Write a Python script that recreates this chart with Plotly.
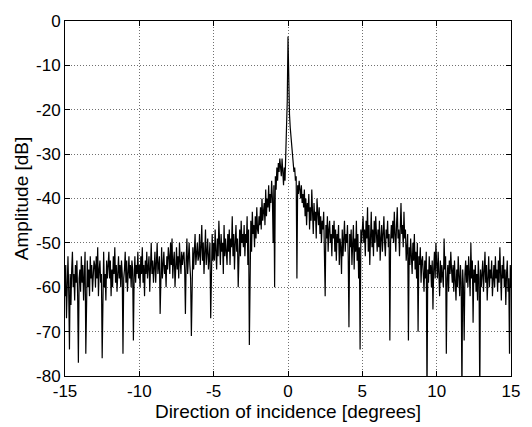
import plotly.graph_objects as go

# Sample angles (degrees), 0.05 degree grid from -15 to 15
angles = [round(-15 + 0.05 * i, 2) for i in range(601)]

# Amplitude [dB], 20 samples per degree
amp_left = [
    -62, -55, -67, -58, -53, -61, -74, -57, -64, -56, -52, -60, -57, -63, -55, -59, -54, -62, -77, -58,  # -15 .. -14.05
    -56, -61, -53, -59, -55, -63, -57, -52, -75, -58, -54, -60, -56, -62, -53, -58, -55, -61, -57, -54,  # -14 .. -13.05
    -55, -60, -53, -58, -51, -62, -56, -54, -59, -57, -76, -55, -52, -60, -57, -63, -54, -58, -56, -52,  # -13 .. -12.05
    -58, -54, -62, -56, -60, -53, -57, -51, -59, -55, -61, -56, -53, -58, -55, -60, -54, -57, -75, -58,  # -12 .. -11.05
    -56, -52, -59, -54, -61, -57, -53, -58, -55, -60, -54, -56, -72, -58, -53, -59, -55, -57, -52, -58,  # -11 .. -10.05
    -55, -60, -53, -57, -51, -59, -55, -62, -54, -57, -52, -58, -56, -53, -61, -55, -50, -57, -54, -59,  # -10 .. -9.05
    -56, -52, -59, -54, -50, -57, -55, -53, -66, -56, -51, -58, -54, -52, -57, -55, -60, -53, -56, -51,  # -9 .. -8.05
    -53, -57, -50, -55, -49, -58, -54, -52, -60, -55, -51, -56, -53, -58, -50, -54, -57, -52, -55, -53,  # -8 .. -7.05
    -52, -56, -66, -54, -49, -57, -53, -50, -55, -58, -71, -54, -51, -56, -52, -48, -55, -53, -50, -54,  # -7 .. -6.05
    -53, -48, -55, -51, -46, -54, -50, -57, -52, -47, -55, -51, -49, -56, -53, -50, -67, -52, -48, -54,  # -6 .. -5.05
    -50, -54, -47, -52, -56, -49, -53, -45, -51, -55, -48, -52, -50, -57, -46, -53, -49, -51, -55, -48,  # -5 .. -4.05
    -52, -47, -55, -49, -51, -44, -53, -48, -56, -50, -46, -52, -49, -60, -51, -47, -53, -45, -50, -48,  # -4 .. -3.05
    -51, -46, -53, -48, -50, -44, -55, -47, -73, -49, -45, -52, -43, -48, -46, -51, -44, -49, -42, -47,  # -3 .. -2.05
    -48, -44, -46, -42, -47, -40, -45, -43, -41, -46, -38, -44, -40, -42, -37, -43, -39, -41, -36, -40,  # -2 .. -1.05
    -50, -37, -60, -35, -38, -33, -36, -32, -34, -31, -33, -35, -31, -34, -37, -33, -36, -30, -26, -18,  # -1 .. -0.05
]
amp_peak = [-3.5]  # 0.0
amp_right = [
    -14, -21, -24, -26, -28, -30, -32, -34, -33, -36, -35, -58, -37, -39, -36, -38, -40, -37, -41, -39,  # 0.05 .. 1
    -42, -38, -44, -40, -46, -41, -43, -39, -47, -42, -45, -38, -44, -48, -41, -45, -43, -49, -40, -44,  # 1.05 .. 2
    -46, -42, -48, -44, -50, -45, -47, -43, -51, -62, -46, -49, -44, -52, -47, -45, -50, -48, -53, -46,  # 2.05 .. 3
    -49, -45, -52, -47, -54, -48, -50, -46, -55, -49, -51, -57, -47, -53, -49, -45, -52, -48, -50, -46,  # 3.05 .. 4
    -53, -69, -48, -51, -47, -55, -50, -46, -56, -49, -52, -45, -54, -48, -58, -51, -74, -47, -50, -45,  # 4.05 .. 5
    -44, -50, -47, -53, -45, -49, -42, -52, -46, -55, -48, -43, -51, -47, -53, -45, -50, -44, -48, -52,  # 5.05 .. 6
    -47, -51, -45, -54, -49, -46, -52, -48, -44, -50, -53, -47, -49, -45, -51, -48, -72, -50, -46, -49,  # 6.05 .. 7
    -45, -50, -43, -48, -52, -46, -42, -49, -47, -53, -44, -41, -48, -46, -51, -43, -49, -47, -54, -50,  # 7.05 .. 8
    -48, -72, -51, -55, -49, -53, -57, -50, -54, -48, -56, -52, -58, -50, -70, -53, -55, -51, -59, -54,  # 8.05 .. 9
    -53, -57, -61, -54, -58, -52, -85, -56, -59, -53, -57, -55, -60, -54, -65, -56, -52, -58, -50, -55,  # 9.05 .. 10
    -58, -52, -56, -62, -54, -59, -55, -57, -60, -49, -56, -53, -75, -58, -55, -61, -54, -57, -52, -56,  # 10.05 .. 11
    -59, -55, -61, -54, -58, -63, -56, -60, -53, -57, -62, -55, -59, -85, -56, -60, -72, -57, -54, -59,  # 11.05 .. 12
    -55, -60, -53, -57, -62, -50, -58, -54, -68, -56, -59, -55, -61, -57, -63, -54, -58, -85, -56, -60,  # 12.05 .. 13
    -58, -54, -61, -56, -52, -59, -55, -63, -57, -53, -60, -56, -58, -54, -62, -57, -55, -60, -53, -58,  # 13.05 .. 14
    -56, -61, -54, -59, -51, -57, -63, -55, -58, -53, -60, -56, -64, -57, -54, -61, -58, -75, -55, -60,  # 14.05 .. 15
]
amplitude = amp_left + amp_peak + amp_right
assert len(amplitude) == len(angles), (len(amp_left), len(amp_right))

x_ticks = [-15, -10, -5, 0, 5, 10, 15]
y_ticks = [-80, -70, -60, -50, -40, -30, -20, -10, 0]

FONT = "Liberation Sans, Arial, Helvetica, sans-serif"

fig = go.Figure()
fig.add_trace(go.Scatter(
    x=angles, y=amplitude, mode="lines",
    line=dict(color="#000000", width=1.2),
    showlegend=False,
))

axis_common = dict(
    showline=True, linecolor="black", linewidth=1, mirror="allticks",
    ticks="inside", ticklen=5, tickcolor="black",
    showgrid=True, gridcolor="#707070", gridwidth=1, griddash="1px,2px",
    zeroline=False,
    tickfont=dict(family=FONT, size=17, color="black"),
)

fig.update_xaxes(
    range=[-15, 15], tickvals=x_ticks, ticktext=[str(v) for v in x_ticks],
    title=dict(text="Direction of incidence [degrees]",
               font=dict(family=FONT, size=19, color="black"),
               standoff=0),
    **axis_common,
)
fig.update_yaxes(
    range=[-80, 0], tickvals=y_ticks, ticktext=[str(v) for v in y_ticks],
    title=dict(text="Amplitude [dB]",
               font=dict(family=FONT, size=19, color="black"),
               standoff=2),
    ticklabelstandoff=0,
    **axis_common,
)

fig.update_layout(
    width=532, height=427,
    margin=dict(l=65, r=12, t=16, b=48),
    paper_bgcolor="white", plot_bgcolor="white",
)

fig.write_html("out.html")
